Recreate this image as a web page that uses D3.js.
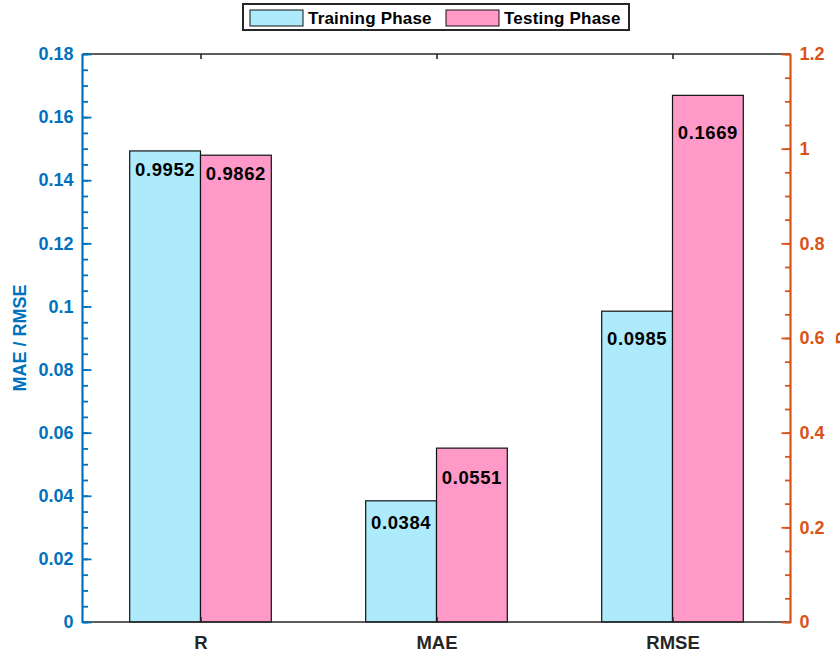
<!DOCTYPE html>
<html>
<head>
<meta charset="utf-8">
<script src="https://cdn.jsdelivr.net/npm/d3@7"></script>
<style>
  html, body { margin: 0; padding: 0; background: #fff; }
  svg { display: block; font-family: Arial, "Liberation Sans", Helvetica, sans-serif; }
</style>
</head>
<body>
<svg id="chart" width="840" height="655"></svg>
<script>
// Metrics and their values for each phase
const categories = ["R", "MAE", "RMSE"];
const seriesNames = ["Training Phase", "Testing Phase"];
const training = [0.9952, 0.0384, 0.0985];
const testing = [0.9862, 0.0551, 0.1669];
// R is read on the right axis, the error metrics on the left axis
const axisFor = ["right", "left", "left"];

const leftTicks = [0, 0.02, 0.04, 0.06, 0.08, 0.1, 0.12, 0.14, 0.16, 0.18];
const leftTickLabels = ["0", "0.02", "0.04", "0.06", "0.08", "0.1", "0.12", "0.14", "0.16", "0.18"];
const rightTicks = [0, 0.2, 0.4, 0.6, 0.8, 1, 1.2];
const rightTickLabels = ["0", "0.2", "0.4", "0.6", "0.8", "1", "1.2"];

// Layout
const L = 82.5, R = 790.5, T = 54, B = 622;
const blue = "#0072BD", orange = "#D95319", dark = "#262626";
const fills = ["#ADEBFC", "#FF99C7"];
const labelDrop = [[25.5, 28, 34], [25, 35.5, 44]]; // baseline below bar top, px
const FONT = "Arial, 'Liberation Sans', Helvetica, sans-serif";

const svg = d3.select("#chart");

const x = d3.scalePoint().domain(categories).range([L, R]).padding(0.5);
const step = x.step();
const xs = d3.scaleBand().domain(seriesNames).range([-0.3 * step, 0.3 * step]).padding(0);
const yL = d3.scaleLinear().domain([0, 0.18]).range([B, T]);
const yR = d3.scaleLinear().domain([0, 1.2]).range([B, T]);

const rows = [];
[training, testing].forEach((vals, s) => {
  vals.forEach((v, i) => {
    rows.push({ cat: categories[i], series: seriesNames[s], s, i, v,
                y: axisFor[i] === "right" ? yR : yL });
  });
});

// Bars
svg.append("g").selectAll("rect").data(rows).join("rect")
  .attr("x", d => x(d.cat) + xs(d.series))
  .attr("width", xs.bandwidth())
  .attr("y", d => d.y(d.v))
  .attr("height", d => B - d.y(d.v))
  .attr("fill", d => fills[d.s])
  .attr("stroke", "#111")
  .attr("stroke-width", 1.2);

// Value labels inside bars
svg.append("g").selectAll("text").data(rows).join("text")
  .attr("x", d => x(d.cat) + xs(d.series) + xs.bandwidth() / 2)
  .attr("y", d => d.y(d.v) + labelDrop[d.s][d.i])
  .attr("text-anchor", "middle")
  .attr("font-size", 18.5)
  .attr("font-weight", "bold")
  .attr("letter-spacing", 0.6)
  .attr("fill", "#000")
  .text(d => d.v.toFixed(4));

// Box top and bottom
svg.append("line").attr("x1", L).attr("x2", R).attr("y1", T).attr("y2", T)
  .attr("stroke", dark).attr("stroke-width", 1.6);
svg.append("line").attr("x1", L).attr("x2", R).attr("y1", B).attr("y2", B)
  .attr("stroke", dark).attr("stroke-width", 1.6);

// Category ticks (inward, top and bottom)
const gxB = svg.append("g").attr("transform", `translate(0,${B})`)
  .call(d3.axisBottom(x).tickSize(-5).tickPadding(14));
gxB.select(".domain").remove();
gxB.selectAll("line").attr("stroke", dark).attr("stroke-width", 1.6);
gxB.selectAll("text").attr("fill", dark).attr("font-size", 18.5).attr("font-weight", "bold")
  .attr("font-family", FONT);
const gxT = svg.append("g").attr("transform", `translate(0,${T})`)
  .call(d3.axisTop(x).tickSize(-5).tickFormat(""));
gxT.select(".domain").remove();
gxT.selectAll("line").attr("stroke", dark).attr("stroke-width", 1.6);

// Left axis: minor and major ticks pointing inward
const leftMinor = d3.range(0, 0.1801, 0.005);
const gL = svg.append("g").attr("transform", `translate(${L},0)`);
gL.append("g").call(d3.axisLeft(yL).tickValues(leftMinor).tickSize(-5.5).tickFormat(""));
gL.append("g").call(d3.axisLeft(yL).tickValues(leftTicks).tickSize(-9).tickFormat((d, i) => leftTickLabels[i]));
gL.selectAll(".domain").remove();
gL.selectAll("line").attr("stroke", blue).attr("stroke-width", 1.8);
gL.selectAll("text")
  .attr("x", -9).attr("text-anchor", "end")
  .attr("fill", blue).attr("font-size", 18).attr("font-weight", "bold")
  .attr("font-family", FONT);
gL.append("line").attr("y1", T).attr("y2", B + 1).attr("stroke", blue).attr("stroke-width", 2.2);

// Right axis: minor and major ticks pointing inward
const rightMinor = d3.range(0, 1.2001, 0.05);
const gR = svg.append("g").attr("transform", `translate(${R},0)`);
gR.append("g").call(d3.axisRight(yR).tickValues(rightMinor).tickSize(-5.5).tickFormat(""));
gR.append("g").call(d3.axisRight(yR).tickValues(rightTicks).tickSize(-9).tickFormat((d, i) => rightTickLabels[i]));
gR.selectAll(".domain").remove();
gR.selectAll("line").attr("stroke", orange).attr("stroke-width", 1.8);
gR.selectAll("text")
  .attr("x", 9).attr("text-anchor", "start")
  .attr("fill", orange).attr("font-size", 18).attr("font-weight", "bold")
  .attr("font-family", FONT);
gR.append("line").attr("y1", T).attr("y2", B + 1).attr("stroke", orange).attr("stroke-width", 2.2);

// Axis titles
svg.append("text")
  .attr("transform", `translate(26,${(T + B) / 2}) rotate(-90)`)
  .attr("text-anchor", "middle")
  .attr("font-size", 18).attr("font-weight", "bold").attr("fill", blue)
  .text("MAE / RMSE");
svg.append("text")
  .attr("transform", `translate(849,${(T + B) / 2}) rotate(-90)`)
  .attr("text-anchor", "middle")
  .attr("font-size", 18).attr("font-weight", "bold").attr("fill", orange)
  .text("R");

// Legend
const legend = svg.append("g");
legend.append("rect").attr("x", 243).attr("y", 4).attr("width", 386).attr("height", 26)
  .attr("fill", "#fff").attr("stroke", dark).attr("stroke-width", 2);
const legX = [250, 446];
seriesNames.forEach((name, s) => {
  legend.append("rect").attr("x", legX[s]).attr("y", 10).attr("width", 53).attr("height", 16)
    .attr("fill", fills[s]).attr("stroke", "#111").attr("stroke-width", 1);
  legend.append("text").attr("x", legX[s] + 58).attr("y", 24)
    .attr("font-size", 17).attr("font-weight", "bold").attr("fill", "#000")
    .attr("letter-spacing", 0.2)
    .text(name);
});
</script>
</body>
</html>
